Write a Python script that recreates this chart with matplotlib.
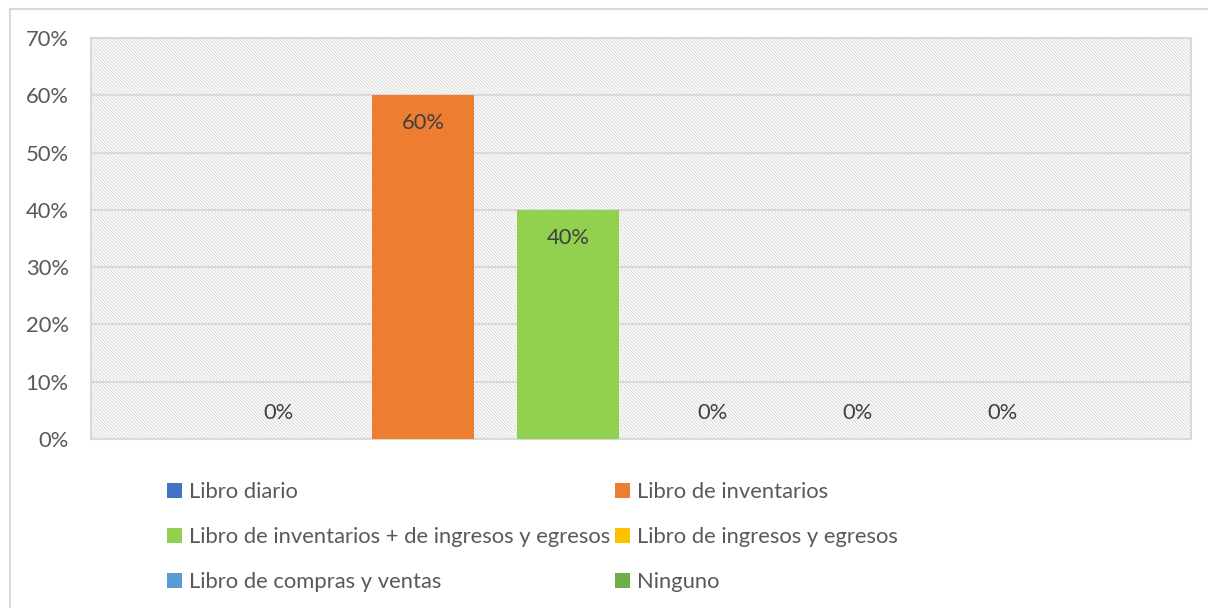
import numpy as np
import matplotlib
matplotlib.use("Agg")
import matplotlib.pyplot as plt
from matplotlib.patches import Rectangle

plt.rcParams['font.family'] = ['Lato', 'DejaVu Sans']
plt.rcParams['hatch.color'] = '#dedede'
plt.rcParams['hatch.linewidth'] = 0.7

# data
series = ["Libro diario", "Libro de inventarios",
          "Libro de inventarios + de ingresos y egresos", "Libro de ingresos y egresos",
          "Libro de compras y ventas", "Ninguno"]
values = [0, 60, 40, 0, 0, 0]
colors = ["#4472C4", "#ED7D31", "#92D050", "#FFC000", "#5B9BD5", "#70AD47"]

text_color = "#595959"
grid_color = "#d9d9d9"
fs = 15.8

fig = plt.figure(figsize=(12.08, 6.08), dpi=100)
W, H = 1208, 608
ax = fig.add_axes([91 / W, 1 - 439 / H, 1100 / W, 401 / H])

# hatched plot area background
ax.add_patch(Rectangle((0, 0), 1, 1, transform=ax.transAxes, facecolor="white",
                       edgecolor=grid_color, hatch="\\" * 10, linewidth=0, zorder=0))

x = np.arange(len(values))
bars = []
for i, (v, c) in enumerate(zip(values, colors)):
    b = ax.bar(x[i], v, width=0.703, color=c, zorder=3, label=series[i])
    bars.append(b)
    off = -28 if v > 0 else 26
    ax.annotate(f"{v}%", (x[i], v), xytext=(0, off * 0.72), textcoords="offset points",
                ha="center", va="center", fontsize=fs, color="#404040", zorder=4)

ax.set_xlim(-1.29, 6.297)
ax.set_ylim(0, 70)
ax.set_yticks(range(0, 71, 10))
ax.set_yticklabels([f"{t}%" for t in range(0, 71, 10)])
ax.set_xticks([])
ax.tick_params(axis="y", length=0, labelsize=fs, labelcolor=text_color, pad=16)
ax.yaxis.grid(True, color=grid_color, linewidth=1.5, zorder=1)
ax.set_axisbelow(False)
for s in ax.spines.values():
    s.set_color(grid_color)
    s.set_linewidth(1.5)
    s.set_zorder(2)

# legend, row-wise order (matplotlib fills columns first)
order = [0, 2, 4, 1, 3, 5]
leg = fig.legend([bars[i] for i in order], [series[i] for i in order], ncol=2,
                 loc="upper left", bbox_to_anchor=(167 / W, 1 - 482 / H),
                 frameon=False, fontsize=fs, labelcolor=text_color,
                 handlelength=0.7, handleheight=0.7, handletextpad=0.3,
                 columnspacing=0.2, labelspacing=1.15, borderaxespad=0, borderpad=0)

# outer chart border
fig.add_artist(Rectangle((9.5 / W, -0.1), 1.2, 1 - 9.5 / H + 0.1, transform=fig.transFigure,
                         fill=False, edgecolor=grid_color, linewidth=1.5))

fig.savefig("out.png", dpi=100)
